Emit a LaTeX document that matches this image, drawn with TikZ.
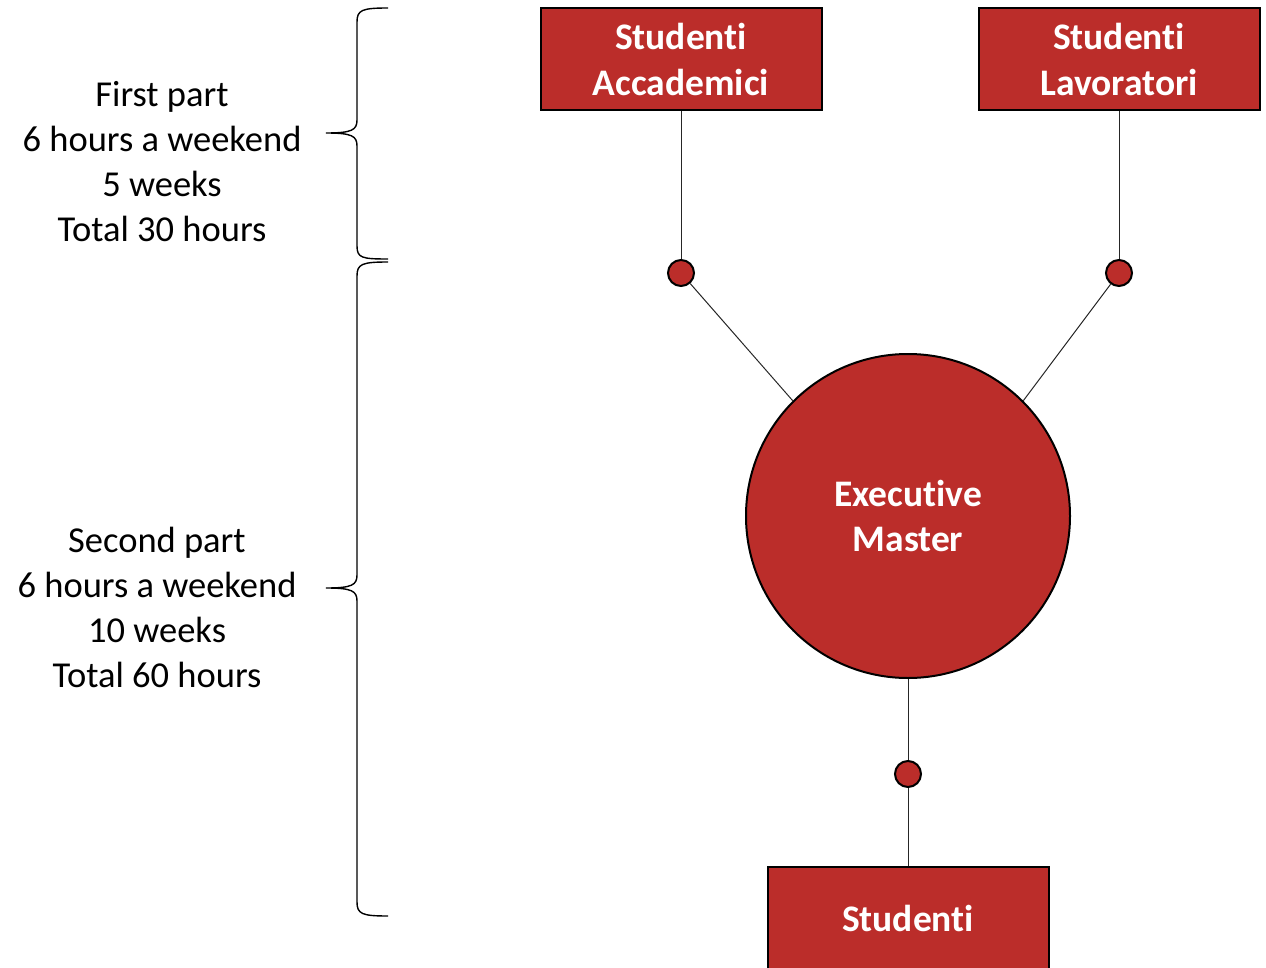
\documentclass[tikz,border=0pt]{standalone}
\usepackage{fontspec}
\setmainfont[Ligatures=NoCommon]{Carlito}
\usetikzlibrary{positioning,calc}
\definecolor{masterred}{RGB}{187,45,42}

\begin{document}
\begin{tikzpicture}[x=1pt, y=-1pt, align=center, >=latex]

%local definitions
\tikzstyle{Course} = [draw, line width=2pt, fill=masterred, rectangle, minimum height=102pt, minimum width=281pt, inner sep=0pt, text=white, font=\fontsize{37.5}{46}\selectfont\bfseries]
\tikzstyle{Master} = [draw, line width=2pt, fill=masterred, circle, minimum size=324pt, inner sep=0pt, text=white, font=\fontsize{37.5}{45}\selectfont\bfseries]
\tikzstyle{Joint} = [draw, line width=2pt, fill=masterred, circle, minimum size=26pt, inner sep=0pt]
\tikzstyle{Period} = [font=\fontsize{36.5}{45}\selectfont]
\tikzstyle{link} = [line width=1pt, black!85]
\tikzstyle{brace} = [line width=1.4pt]

\useasboundingbox (0,0) rectangle (1266,968);

%main loop
	\node [Course] (Accademici) at (681,59) {Studenti\\Accademici};
	\node [Course] (Lavoratori) at (1119,59) {Studenti\\Lavoratori};
	\node [Joint] (jointA) at (681,273) {};
	\node [Joint] (jointL) at (1119,273) {};
	\node [Master] (Master) at (908,516) {Executive\\Master};
	\node [Joint] (jointS) at (908,774) {};
	\node [Course] (Studenti) at (908,918) {Studenti};

	%periods
	\node [Period] (FirstPart) at (162,161.5) {First part\\6 hours a weekend\\5 weeks\\Total 30 hours};
	\node [Period] (SecondPart) at (157,607) {Second part\\6 hours a weekend\\10 weeks\\Total 60 hours};

%connections
	\draw [link] (Accademici) -- (jointA);
	\draw [link] (jointA) -- (Master.135);
	\draw [link] (Lavoratori) -- (jointL);
	\draw [link] (jointL) -- (Master.45);
	\draw [link] (Master) -- (jointS);
	\draw [link] (jointS) -- (Studenti);

	%braces
	\draw [brace] (388,8) .. controls (362,8) and (357,10) .. (357,22) -- (357,120)
		.. controls (357,130) and (352,133) .. (326,133)
		.. controls (352,133) and (357,136) .. (357,146) -- (357,246)
		.. controls (357,258) and (362,259) .. (388,259);
	\draw [brace] (388,262) .. controls (362,262) and (357,264) .. (357,276) -- (357,575)
		.. controls (357,585) and (352,588) .. (326,588)
		.. controls (352,588) and (357,591) .. (357,601) -- (357,902)
		.. controls (357,914) and (362,916) .. (388,916);

\end{tikzpicture}
\end{document}
